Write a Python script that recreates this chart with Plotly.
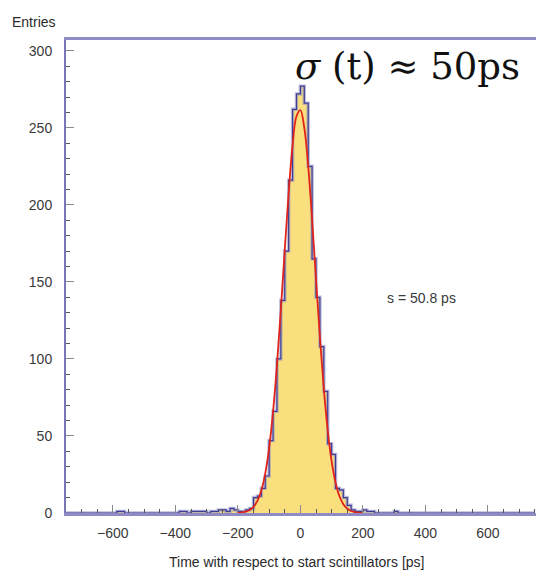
import numpy as np
import plotly.graph_objects as go

# ---- data ----
BIN_LOW = -750.0      # low edge of the first histogram bin [ps]
BIN_WIDTH = 12.5      # histogram bin width [ps]

# entries per bin, 120 bins from -750 to 750 ps
counts = (
    [0] * 13 +                                   # -750 .. -587.5
    [1, 1] +                                     # -587.5 .. -562.5
    [0] * 14 +                                   # -562.5 .. -387.5
    [1, 1, 0, 1, 1, 1, 1, 0, 1, 1, 2, 2, 1, 3, 2,  # -387.5 .. -200
     1, 1, 2, 3, 10, 11, 16, 24, 47, 66, 100, 138, 170, 216, 262, 272,  # -200 .. 0
     277, 266, 225, 165, 140, 108, 79, 45, 38, 16, 15, 10, 5, 2, 1, 1,  # 0 .. 200
     2, 1, 1, 0, 0, 0, 0, 0, 1] +                # 200 .. 312.5
    [0] * 35                                     # 312.5 .. 750
)

# gaussian fit curve
fit_x = [-200, -187.5, -175, -162.5, -150, -137.5, -125, -112.5, -100, -87.5,
         -75, -62.5, -50, -37.5, -25, -12.5, 0, 12.5, 25, 37.5, 50, 62.5, 75,
         87.5, 100, 112.5, 125, 137.5, 150, 162.5, 175, 187.5, 200]
fit_y = [0.1, 0.4, 0.9, 1.9, 4.0, 7.9, 14.6, 25.6, 42.3, 65.7,
         96.0, 131.9, 170.8, 208.0, 238.5, 257.5, 261.5, 250.1, 225.1, 190.7, 152.0, 114.1, 80.6,
         53.6, 33.5, 19.8, 10.9, 5.7, 2.8, 1.3, 0.6, 0.2, 0.1]

x_title = "Time with respect to start scintillators [ps]"
y_title = "Entries"
fit_label = "s = 50.8 ps"
big_label = "<i>σ</i> (t) ≈ 50ps"

# ---- figure ----
edges = BIN_LOW + BIN_WIDTH * np.arange(len(counts) + 1)
step_y = list(counts) + [counts[-1]]

fig = go.Figure()
fig.add_trace(go.Scatter(
    x=edges, y=step_y, mode="lines",
    line=dict(shape="hv", color="rgba(150,148,195,0.6)", width=3.5),
    fill="tozeroy", fillcolor="#f9df7e", hoverinfo="skip", showlegend=False))
fig.add_trace(go.Scatter(
    x=edges, y=step_y, mode="lines",
    line=dict(shape="hv", color="#3c3c98", width=1.2),
    showlegend=False))
fig.add_trace(go.Scatter(
    x=fit_x, y=fit_y, mode="lines",
    line=dict(shape="spline", color="#e2231a", width=1.8),
    showlegend=False))

sans = "Liberation Sans, Arial, sans-serif"
fig.update_layout(
    width=536, height=571,
    margin=dict(l=66, r=0, t=40, b=58),
    paper_bgcolor="white", plot_bgcolor="white",
    font=dict(family=sans, size=14, color="#3a3a3a"),
    xaxis=dict(
        range=[-750, 754], tickmode="linear", tick0=0, dtick=200,
        ticks="inside", ticklen=8, tickwidth=1, tickcolor="#8a8a8a",
        minor=dict(dtick=50, tick0=0, ticks="inside", ticklen=4, tickwidth=1,
                   tickcolor="#555", showgrid=False),
        showline=True, linecolor="#918bc3", linewidth=2.5, mirror=True,
        showgrid=False, zeroline=False, ticklabelstandoff=5,
        tickfont=dict(family=sans, size=14, color="#3a3a3a"),
    ),
    yaxis=dict(
        range=[0, 307], tickmode="linear", tick0=0, dtick=50,
        ticks="inside", ticklen=8, tickwidth=1, tickcolor="#8a8a8a",
        minor=dict(dtick=10, tick0=0, ticks="inside", ticklen=4, tickwidth=1,
                   tickcolor="#555", showgrid=False),
        showline=True, linecolor="#7a75b5", linewidth=2,
        showgrid=False, zeroline=False, ticklabelstandoff=9,
        tickfont=dict(family=sans, size=14, color="#3a3a3a"),
    ),
    annotations=[
        dict(text=y_title, xref="paper", yref="paper", x=-0.068, y=1.037,
             xanchor="center", yanchor="middle", showarrow=False,
             font=dict(family=sans, size=14, color="#2a2a2a")),
        dict(text=x_title, xref="paper", yref="paper", x=0.491, y=-0.1036,
             xanchor="center", yanchor="middle", showarrow=False,
             font=dict(family=sans, size=14, color="#2a2a2a")),
        dict(text=fit_label, xref="paper", yref="paper", x=0.757, y=0.4545,
             xanchor="center", yanchor="middle", showarrow=False,
             font=dict(family=sans, size=14, color="#3a3a3a")),
        dict(text=big_label, xref="paper", yref="paper", x=0.483, y=0.945,
             xanchor="left", yanchor="middle", showarrow=False,
             font=dict(family="DejaVu Serif, serif", size=37, color="#111")),
    ],
)

fig.write_html("out.html", config={"displayModeBar": False},
               post_script="document.body.style.margin='0';document.body.style.padding='0';")
